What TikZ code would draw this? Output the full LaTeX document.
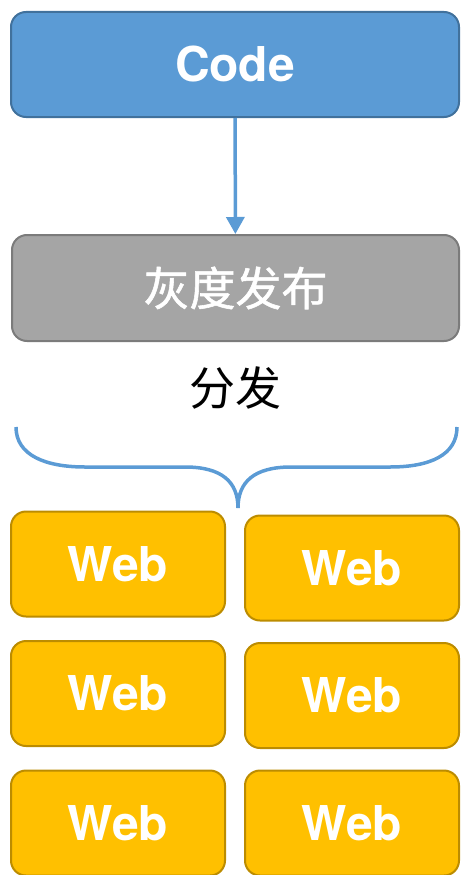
\documentclass[tikz,border=0pt]{standalone}
\usepackage{fontspec}
\setmainfont{TeX Gyre Heros}
\newfontfamily\cjk{Noto Sans CJK SC}
\newfontfamily\cjkmed[FakeBold=1.2]{Noto Sans CJK SC}
\usepackage{tikz}
\usetikzlibrary{positioning,arrows.meta}

\definecolor{codeblue}{HTML}{5B9BD5}
\definecolor{codeedge}{HTML}{41719C}
\definecolor{grayfill}{HTML}{A5A5A5}
\definecolor{grayedge}{HTML}{7B7B7B}
\definecolor{webfill}{HTML}{FFC000}
\definecolor{webedge}{HTML}{BC8C00}

\begin{document}
\begin{tikzpicture}[x=1pt,y=-1pt,
    box/.style={draw, rounded corners=15pt, line width=2pt, text=white, inner sep=0pt},
    codebox/.style={box, fill=codeblue, draw=codeedge, minimum width=448pt, minimum height=105pt,
        font=\fontsize{48}{52}\selectfont\bfseries},
    graybox/.style={box, fill=grayfill, draw=grayedge, minimum width=447pt, minimum height=106pt,
        font=\fontsize{46}{50}\selectfont\cjkmed},
    webbox/.style={box, fill=webfill, draw=webedge, minimum width=214pt, minimum height=105pt,
        font=\fontsize{48}{52}\selectfont\bfseries}]
\useasboundingbox (0,0) rectangle (461,875);
\node[codebox] (code) at (235,64.5) {Code};
\node[graybox] (gray) at (235.5,288) {灰度发布};
\node[font=\fontsize{46}{50}\selectfont\cjk] (dist) at (235,388) {分发};
% web servers
\node[webbox] (web1) at (118,564) {Web};
\node[webbox] (web2) at (352,568) {Web};
\node[webbox] (web3) at (118,693.5) {Web};
\node[webbox] (web4) at (352,695.5) {Web};
\node[webbox] (web5) at (118,823) {Web};
\node[webbox] (web6) at (352,823) {Web};
\draw[codeblue, line width=3.5pt, -{Triangle[width=18pt,length=17pt]}] (code) -- (gray);
% brace
\draw[codeblue, line width=3.5pt]
    (16,427) .. controls (16,455) and (45,467) .. (85,467) -- (185,467)
    .. controls (222,467) and (238,482) .. (238,508)
    .. controls (238,482) and (254,467) .. (291,467) -- (390,467)
    .. controls (430,467) and (457,455) .. (457,427);
\end{tikzpicture}
\end{document}
